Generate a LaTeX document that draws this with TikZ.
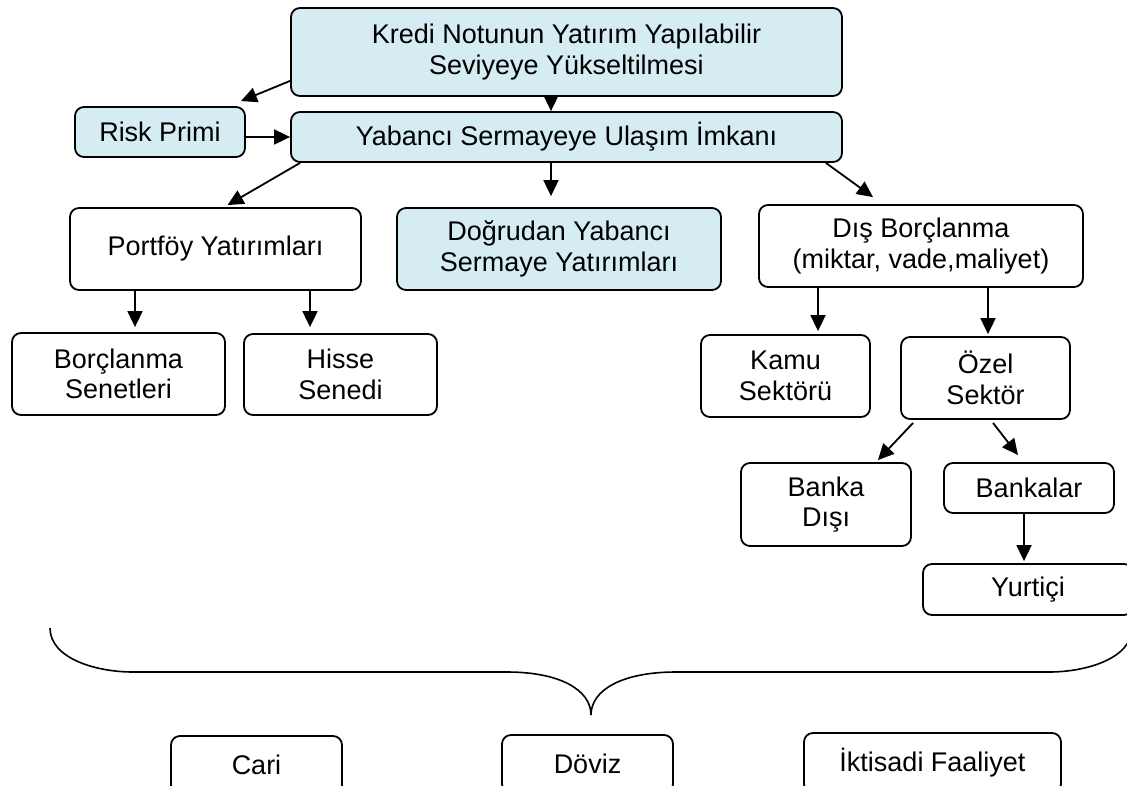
\documentclass[tikz,border=0pt]{standalone}
\usepackage{fontspec}
\setmainfont{Liberation Sans}
\usetikzlibrary{arrows.meta,calc}
\definecolor{paleblue}{RGB}{213,236,243}
\begin{document}
\begin{tikzpicture}[x=1pt,y=-1pt,
  box/.style={draw, line width=1.8pt, rounded corners=9pt, align=center,
    inner sep=0pt, font=\fontsize{27}{30.5}\selectfont},
  bluebox/.style={box, fill=paleblue},
  arr/.style={line width=1.8pt, -{Triangle[length=16pt,width=15pt]}},
  brace/.style={line width=1.6pt}]
\clip (0,0) rectangle (1127,785);
\useasboundingbox (0,0) rectangle (1127,785);

% top levels
\node[bluebox, minimum width=551pt, minimum height=88pt] (top) at (566.5,52)
  {Kredi Notunun Yatırım Yapılabilir\\Seviyeye Yükseltilmesi};
\node[bluebox, minimum width=170pt, minimum height=50pt] (risk) at (160,132) {Risk Primi};
\node[bluebox, minimum width=551pt, minimum height=50pt] (yab) at (566.5,137)
  {Yabancı Sermayeye Ulaşım İmkanı};

% second row
\node[box, minimum width=291pt, minimum height=82pt] (pf) at (215.5,249)
  {\raisebox{7pt}{Portföy Yatırımları}};
\node[bluebox, minimum width=324pt, minimum height=82pt] (dog) at (559,249)
  {Doğrudan Yabancı\\Sermaye Yatırımları};
\node[box, minimum width=324pt, minimum height=82pt] (dis) at (921,246)
  {Dış Borçlanma\\(miktar, vade,maliyet)};

% third row
\node[box, minimum width=213pt, minimum height=82pt] (bor) at (118.5,374)
  {Borçlanma\\Senetleri};
\node[box, minimum width=193pt, minimum height=81pt] (his) at (340.5,374.5)
  {Hisse\\Senedi};
\node[box, minimum width=169pt, minimum height=82pt] (kamu) at (785.5,376)
  {Kamu\\Sektörü};
\node[box, minimum width=169pt, minimum height=82pt] (ozel) at (985.5,378)
  {Özel\\Sektör};

% fourth and fifth rows
\node[box, minimum width=170pt, minimum height=83pt] (bdisi) at (826,504.5)
  {Banka\\Dışı};
\node[box, minimum width=170pt, minimum height=50pt] (bankalar) at (1029,488) {Bankalar};
\node[box, minimum width=210pt, minimum height=51pt] (yurt) at (1028,589.5) {Yurtiçi};

% bottom row
\node[box, minimum width=171pt, minimum height=58pt] (cari) at (256.5,765) {Cari};
\node[box, minimum width=171pt, minimum height=58pt] (doviz) at (587.5,764) {Döviz};
\node[box, minimum width=257pt, minimum height=60pt] (iktisadi) at (932.5,763) {İktisadi Faaliyet};

% connectors
\draw[arr] ([yshift=16pt]top.south west) -- ([xshift=-5pt,yshift=5pt]risk.north east);
\draw[arr] ([xshift=-15.5pt]top.south) -- ([xshift=-15.5pt]top.south |- yab.north);
\draw[arr] ([yshift=-5pt]risk.east) -- ([yshift=-5pt]risk.east -| yab.west);
\draw[arr] ([xshift=10pt]yab.south west) -- ([xshift=12pt,yshift=2pt]pf.north);
\draw[arr, shorten >=11pt] ([xshift=-15.5pt]yab.south) -- ([xshift=-15.5pt]yab.south |- dog.north);
\draw[arr] ([xshift=-17pt]yab.south east) -- ([xshift=-48pt,yshift=7pt]dis.north);

\draw[arr, shorten >=5pt] ([xshift=-80.5pt]pf.south) -- ([xshift=-80.5pt]pf.south |- bor.north);
\draw[arr, shorten >=6pt] ([xshift=94.5pt]pf.south) -- ([xshift=94.5pt]pf.south |- his.north);

\draw[arr, shorten >=3pt] ([xshift=-103pt]dis.south) -- ([xshift=-103pt]dis.south |- kamu.north);
\draw[arr, shorten >=2pt] ([xshift=67pt]dis.south) -- ([xshift=67pt]dis.south |- ozel.north);

\draw[arr] ([xshift=13pt,yshift=-3pt]ozel.south west) -- ([xshift=-34pt,yshift=2pt]bdisi.north east);
\draw[arr] ([xshift=7.5pt,yshift=-3pt]ozel.south) -- ([xshift=-11pt,yshift=7pt]bankalar.north);
\draw[arr, shorten >=2pt] ([xshift=-5pt]bankalar.south) -- ([xshift=-5pt]bankalar.south |- yurt.north);

% curly brace grouping the lower boxes
\draw[brace] (50,628) .. controls (50,658) and (95,672) .. (133,672)
  -- (507,672) .. controls (560,672) and (591,690) .. (591,715)
  .. controls (591,690) and (622,672) .. (676,672)
  -- (1049,672) .. controls (1087,672) and (1132,658) .. (1132,628);
\end{tikzpicture}
\end{document}
